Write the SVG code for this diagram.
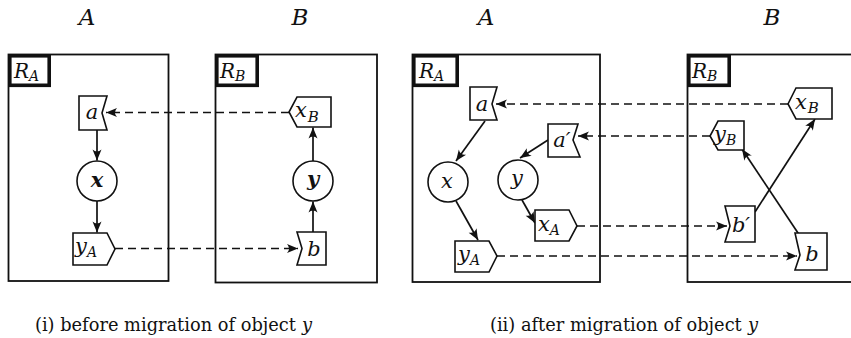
<svg xmlns="http://www.w3.org/2000/svg" width="851" height="338" viewBox="0 0 851 338">
<style>
.box{fill:none;stroke:#111;stroke-width:1.8}
.lab{fill:#fff;stroke:#111;stroke-width:3.6}
.nd{fill:#fff;stroke:#111;stroke-width:1.6;stroke-linejoin:miter}
.ln{fill:none;stroke:#111;stroke-width:1.7}
.ds{fill:none;stroke:#111;stroke-width:1.7;stroke-dasharray:8 5}
.t{font-style:italic;fill:#111}
.tb{font-style:italic;font-weight:bold;fill:#111}
.cap{font-size:17.8px;fill:#111}
</style>
<defs>
<marker id="ah" viewBox="-12 -5 13 10" markerWidth="13" markerHeight="10" refX="0" refY="0" orient="auto" markerUnits="userSpaceOnUse">
<path d="M0,0 L-11,-4.5 Q-7,0 -11,4.5 Z" fill="#111"/>
</marker>
</defs>
<rect width="851" height="338" fill="#fff"/>
<g font-family="DejaVu Serif, serif">
<!-- headers -->
<text class="t" x="87" y="25" font-size="23" text-anchor="middle">A</text>
<text class="t" x="300" y="25" font-size="23" text-anchor="middle">B</text>
<text class="t" x="486" y="25" font-size="23" text-anchor="middle">A</text>
<text class="t" x="772" y="25" font-size="23" text-anchor="middle">B</text>

<!-- panel (i) regions -->
<g id="i-RA">
<rect class="box" x="8.5" y="54.5" width="160" height="226.5"/>
<rect class="lab" x="9.8" y="55.8" width="39.4" height="29.5"/>
<text class="t" x="14" y="78" font-size="20">R<tspan font-size="14" dy="3">A</tspan></text>
</g>
<g id="i-RB">
<rect class="box" x="215.5" y="54.5" width="161.5" height="228"/>
<rect class="lab" x="216.8" y="55.8" width="40.4" height="29.5"/>
<text class="t" x="220" y="78" font-size="20">R<tspan font-size="14" dy="3">B</tspan></text>
</g>

<!-- panel (ii) regions -->
<g id="ii-RA">
<rect class="box" x="412.5" y="54.5" width="187.5" height="227.5"/>
<rect class="lab" x="413.8" y="55.8" width="43.4" height="29.5"/>
<text class="t" x="419" y="78" font-size="20">R<tspan font-size="14" dy="3">A</tspan></text>
</g>
<g id="ii-RB">
<rect class="box" x="687.5" y="54.5" width="180" height="227.5"/>
<rect class="lab" x="688.8" y="55.8" width="40.4" height="29.5"/>
<text class="t" x="692" y="78" font-size="20">R<tspan font-size="14" dy="3">B</tspan></text>
</g>

<!-- connectors -->
<g id="connectors">
<line class="ln" x1="97" y1="130" x2="97" y2="160.5" marker-end="url(#ah)"/>
<line class="ln" x1="97" y1="201" x2="97" y2="232.5" marker-end="url(#ah)"/>
<line class="ln" x1="313" y1="161" x2="313" y2="127.5" marker-end="url(#ah)"/>
<line class="ln" x1="313" y1="232" x2="313" y2="201.5" marker-end="url(#ah)"/>
<line class="ds" x1="289" y1="112.5" x2="106" y2="112.5" marker-end="url(#ah)"/>
<line class="ds" x1="115" y1="248.5" x2="298" y2="248.5" marker-end="url(#ah)"/>

<line class="ln" x1="485" y1="121" x2="456" y2="161" marker-end="url(#ah)"/>
<line class="ln" x1="548" y1="140" x2="520" y2="158" marker-end="url(#ah)"/>
<line class="ln" x1="456" y1="201" x2="478" y2="240" marker-end="url(#ah)"/>
<line class="ln" x1="522" y1="200" x2="535" y2="223" marker-end="url(#ah)"/>
<line class="ln" x1="755" y1="212" x2="815" y2="119" marker-end="url(#ah)"/>
<line class="ln" x1="800" y1="236" x2="742" y2="149" marker-end="url(#ah)"/>
<line class="ds" x1="788" y1="104" x2="496" y2="104" marker-end="url(#ah)"/>
<line class="ds" x1="710" y1="136" x2="578" y2="136" marker-end="url(#ah)"/>
<line class="ds" x1="577" y1="226" x2="727" y2="226" marker-end="url(#ah)"/>
<line class="ds" x1="497" y1="256" x2="797" y2="256" marker-end="url(#ah)"/>
</g>

<!-- panel (i) nodes -->
<g id="i-a"><path class="nd" d="M79,96 H107 L102,113 L107,130 H79 Z"/><text class="t" x="92" y="119" font-size="21" text-anchor="middle">a</text></g>
<g id="i-x"><circle class="nd" cx="97" cy="181" r="20"/><text class="tb" x="97" y="187" font-size="21" text-anchor="middle">x</text></g>
<g id="i-yA"><path class="nd" d="M73,233 H107 L115,249 L107,265 H73 Z"/><text class="t" x="75" y="253" font-size="21">y<tspan font-size="14" dy="4">A</tspan></text></g>
<g id="i-xB"><path class="nd" d="M297,97 H331 V127 H297 L289,112 Z"/><text class="t" x="295" y="117" font-size="21">x<tspan font-size="15" dx="1" dy="5">B</tspan></text></g>
<g id="i-y"><circle class="nd" cx="313" cy="181" r="20"/><text class="tb" x="313" y="186" font-size="21" text-anchor="middle">y</text></g>
<g id="i-b"><path class="nd" d="M297,232 H326 V265 H297 L302,248.5 Z"/><text class="t" x="314" y="256" font-size="21" text-anchor="middle">b</text></g>

<!-- panel (ii) nodes -->
<g id="ii-a"><path class="nd" d="M470,87 H497 L492,104 L497,120 H470 Z"/><text class="t" x="482" y="111" font-size="21" text-anchor="middle">a</text></g>
<g id="ii-a2"><path class="nd" d="M548,124 H578 L573,140 L580,157 H548 Z"/><text class="t" x="562" y="147" font-size="21" text-anchor="middle">a′</text></g>
<g id="ii-x"><circle class="nd" cx="448" cy="182" r="20"/><text class="t" x="447" y="188" font-size="21" text-anchor="middle">x</text></g>
<g id="ii-y"><circle class="nd" cx="518" cy="180" r="20"/><text class="t" x="517" y="185" font-size="21" text-anchor="middle">y</text></g>
<g id="ii-xA"><path class="nd" d="M535,210 H569 L577,226 L569,241 H535 Z"/><text class="t" x="538" y="231" font-size="21">x<tspan font-size="14" dy="4">A</tspan></text></g>
<g id="ii-yA"><path class="nd" d="M455,241 H489 L497,256 L489,272 H455 Z"/><text class="t" x="458" y="261" font-size="21">y<tspan font-size="14" dy="4">A</tspan></text></g>
<g id="ii-xB"><path class="nd" d="M796,88 H832 V119 H796 L788,104 Z"/><text class="t" x="795" y="109" font-size="21">x<tspan font-size="15" dx="1" dy="4">B</tspan></text></g>
<g id="ii-yB"><path class="nd" d="M718,121 H744 V150 H718 L710,136 Z"/><text class="t" x="714" y="141" font-size="21">y<tspan font-size="14" dy="4">B</tspan></text></g>
<g id="ii-b2"><path class="nd" d="M725,206 H755 V242 H725 L730,226 Z"/><text class="t" x="741" y="232" font-size="21" text-anchor="middle">b′</text></g>
<g id="ii-b"><path class="nd" d="M795,233 H827 V270 H795 L800,255 Z"/><text class="t" x="812" y="261" font-size="21" text-anchor="middle">b</text></g>

<!-- captions -->
<text class="cap" x="35" y="331">(i) before migration of object</text>
<text class="cap" x="302" y="331" font-style="italic" font-size="19">y</text>
<text class="cap" x="490" y="331">(ii) after migration of object</text>
<text class="cap" x="748" y="331" font-style="italic" font-size="19">y</text>
</g>
</svg>
